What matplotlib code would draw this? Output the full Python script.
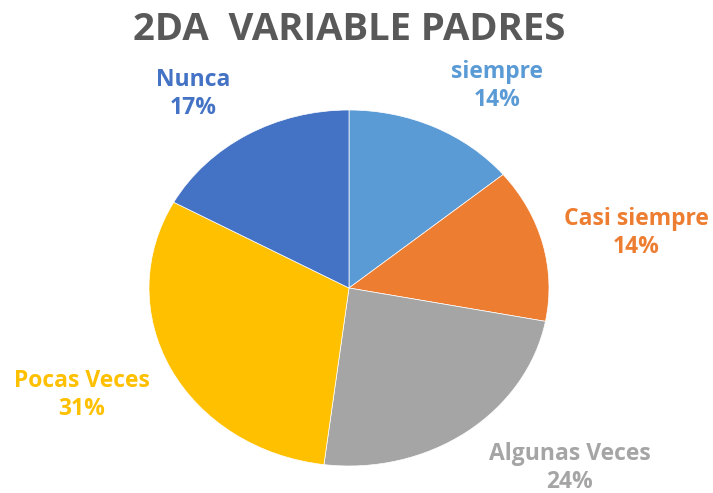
import matplotlib
matplotlib.use("Agg")
import matplotlib.pyplot as plt

categories = ["siempre", "Casi siempre", "Algunas Veces", "Pocas Veces", "Nunca"]
values = [14, 14, 24, 31, 17]
colors = ["#5B9BD5", "#ED7D31", "#A5A5A5", "#FFC000", "#4472C4"]

# label positions in pie data units (x, y)
label_pos = [(0.74, 1.135), (1.435, 0.31), (1.105, -1.01), (-1.335, -0.60), (-0.78, 1.09)]

plt.rcParams['font.family'] = ['Open Sans', 'DejaVu Sans']

fig = plt.figure(figsize=(7.13, 4.93), dpi=100)
fig.patch.set_facecolor('white')

fig.text(349 / 713, 1 - 30 / 493, "2DA  VARIABLE PADRES", ha='center', va='center',
         fontsize=27.5, fontweight='bold', color='#595959')

ax = fig.add_axes([149 / 713, 27 / 493, 400 / 713, 356 / 493])
ax.pie(values, colors=colors, startangle=90, counterclock=False,
       wedgeprops=dict(edgecolor='white', linewidth=0.5))
ax.set_aspect('auto')
ax.set_xlim(-1, 1)
ax.set_ylim(-1, 1)

for cat, v, c, (x, y) in zip(categories, values, colors, label_pos):
    ax.text(x, y, f"{cat}\n{v}%", ha='center', va='center', color=c,
            fontsize=16.5, fontweight='bold', linespacing=1.25, clip_on=False)

fig.savefig("out.png", dpi=100)
